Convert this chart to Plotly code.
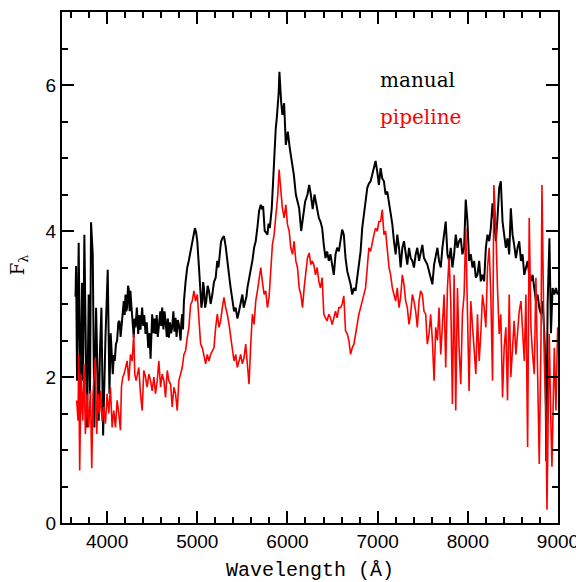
import plotly.graph_objects as go

# ---- data ----
wave_manual = [
    3650, 3656, 3667, 3685, 3704, 3722, 3733, 3748, 3765, 3778, 3796, 3811, 3822, 3841, 3859, 3878,
    3893, 3907, 3922, 3937, 3956, 3970, 3982, 4007, 4026, 4040, 4048, 4063, 4075, 4085, 4098,
    4111, 4125, 4137, 4150, 4167, 4185, 4195, 4204, 4213, 4222, 4232, 4241, 4250, 4259, 4268,
    4278, 4287, 4296, 4305, 4315, 4330, 4345, 4358, 4370, 4380, 4389, 4400, 4412, 4426, 4440,
    4456, 4470, 4482, 4491, 4500, 4515, 4526, 4537, 4550, 4562, 4574, 4590, 4600, 4611, 4625,
    4637, 4648, 4662, 4674, 4685, 4697, 4710, 4722, 4735, 4747, 4759, 4770, 4784, 4796, 4805,
    4815, 4824, 4833, 4842, 4852, 4870, 4889, 4907, 4926, 4944, 4960, 4974, 4987, 5000, 5019,
    5037, 5046, 5056, 5065, 5074, 5087, 5100, 5115, 5130, 5148, 5167, 5185, 5204, 5222, 5235,
    5248, 5263, 5278, 5296, 5315, 5333, 5352, 5370, 5389, 5408, 5426, 5445, 5463, 5482, 5500,
    5515, 5530, 5545, 5556, 5575, 5593, 5612, 5630, 5648, 5667, 5685, 5704, 5718, 5730, 5748,
    5762, 5778, 5790, 5804, 5826, 5845, 5858, 5870, 5882, 5893, 5903, 5911, 5920, 5930, 5944,
    5963, 5982, 6004, 6026, 6048, 6071, 6093, 6111, 6130, 6152, 6174, 6196, 6222, 6241, 6259,
    6280, 6300, 6322, 6348, 6366, 6385, 6403, 6422, 6440, 6459, 6477, 6496, 6514, 6533, 6551,
    6570, 6588, 6607, 6625, 6644, 6663, 6681, 6700, 6718, 6737, 6755, 6774, 6792, 6811, 6829,
    6848, 6866, 6885, 6903, 6922, 6940, 6959, 6977, 6996, 7014, 7033, 7051, 7070, 7088, 7107,
    7126, 7144, 7163, 7181, 7200, 7218, 7237, 7255, 7274, 7292, 7311, 7329, 7348, 7366, 7385,
    7403, 7422, 7440, 7459, 7477, 7496, 7514, 7533, 7551, 7570, 7588, 7607, 7626, 7644, 7663,
    7681, 7700, 7718, 7737, 7755, 7774, 7792, 7811, 7829, 7848, 7866, 7885, 7903, 7922, 7940,
    7959, 7977, 7996, 8014, 8033, 8052, 8070, 8089, 8107, 8126, 8144, 8163, 8181, 8200, 8218,
    8237, 8255, 8274, 8292, 8311, 8329, 8348, 8366, 8385, 8403, 8422, 8440, 8459, 8477, 8496,
    8514, 8533, 8552, 8570, 8589, 8607, 8626, 8644, 8663, 8681, 8700, 8718, 8737, 8755, 8774,
    8792, 8811, 8829, 8848, 8860, 8870, 8885, 8905, 8922, 8940, 8959, 8977, 8996,
]
flux_manual = [
    3.10, 3.52, 1.95, 3.84, 1.50, 3.29, 1.95, 3.95, 2.30, 1.31, 3.13, 1.77, 4.12, 3.68, 1.31, 2.95,
    2.10, 1.40, 2.40, 2.95, 1.20, 2.20, 2.54, 3.47, 1.77, 2.60, 2.36, 2.04, 2.30, 2.22, 2.45,
    2.50, 2.75, 2.77, 2.55, 2.81, 3.04, 2.85, 3.13, 2.90, 2.95, 3.25, 3.20, 2.90, 3.18, 3.00,
    2.86, 2.70, 2.54, 2.80, 2.68, 2.95, 2.59, 2.85, 2.65, 2.80, 2.95, 2.70, 2.85, 2.59, 2.75,
    2.40, 2.60, 2.25, 2.55, 2.86, 2.60, 2.80, 2.59, 2.85, 2.55, 2.68, 2.90, 2.70, 2.95, 2.65,
    2.90, 2.77, 2.55, 2.80, 2.54, 2.75, 2.60, 2.68, 2.90, 2.62, 2.81, 2.55, 2.78, 2.72, 2.60,
    2.50, 2.75, 2.86, 2.65, 3.04, 3.30, 3.50, 3.60, 3.72, 3.88, 3.95, 4.04, 3.98, 3.86, 3.50,
    3.18, 2.95, 3.04, 3.30, 3.22, 2.95, 3.04, 3.25, 3.18, 3.00, 3.13, 3.30, 3.36, 3.59, 3.50,
    3.68, 3.85, 3.90, 3.93, 3.79, 3.63, 3.40, 3.22, 3.04, 2.90, 2.95, 2.80, 2.90, 3.05, 3.13,
    2.95, 3.04, 3.10, 3.22, 3.35, 3.45, 3.60, 3.77, 3.86, 4.05, 4.27, 4.36, 4.30, 4.34, 4.00,
    3.98, 3.95, 4.10, 4.04, 4.31, 4.81, 5.10, 5.40, 5.55, 5.72, 5.90, 6.18, 5.85, 5.77, 5.59,
    5.75, 5.18, 5.36, 5.13, 4.95, 4.77, 4.50, 4.40, 4.31, 4.00, 4.18, 4.40, 4.50, 4.63, 4.50,
    4.30, 4.50, 4.36, 4.18, 4.13, 4.04, 3.81, 3.63, 3.72, 3.59, 3.68, 3.50, 3.40, 3.68, 3.77,
    3.72, 3.86, 4.02, 3.95, 3.63, 3.45, 3.36, 3.27, 3.13, 3.22, 3.18, 3.36, 3.59, 3.72, 4.04,
    4.22, 4.40, 4.59, 4.65, 4.68, 4.77, 4.86, 4.96, 4.81, 4.63, 4.86, 4.72, 4.68, 4.50, 4.54,
    4.40, 4.27, 4.09, 3.86, 3.68, 3.95, 3.77, 3.50, 3.77, 3.86, 3.68, 3.54, 3.77, 3.63, 3.59,
    3.50, 3.68, 3.77, 3.59, 3.68, 3.81, 3.63, 3.59, 3.54, 3.45, 3.36, 3.27, 3.54, 3.68, 3.77,
    3.59, 3.50, 3.77, 4.00, 4.13, 3.68, 3.59, 3.77, 3.50, 3.68, 3.95, 3.77, 3.86, 3.90, 3.68,
    3.77, 4.43, 4.13, 3.59, 3.68, 3.50, 3.59, 3.36, 3.40, 3.59, 3.31, 3.40, 3.31, 3.77, 3.95,
    3.86, 4.04, 4.38, 4.13, 3.86, 4.18, 4.59, 4.68, 4.13, 3.95, 3.77, 3.90, 3.68, 4.31, 3.95,
    3.81, 3.63, 3.77, 3.86, 3.59, 3.68, 3.40, 3.50, 3.59, 3.40, 3.31, 3.40, 3.22, 3.04, 3.13,
    2.95, 2.86, 3.04, 2.60, 2.20, 0.85, 3.00, 3.90, 2.60, 3.22, 3.13, 3.22, 3.13,
]

wave_pipeline = [
    3663, 3678, 3685, 3696, 3711, 3730, 3744, 3759, 3778, 3796, 3815, 3830, 3844, 3859, 3870,
    3885, 3900, 3915, 3930, 3944, 3963, 3982, 4000, 4019, 4037, 4056, 4074, 4093, 4111, 4130,
    4148, 4159, 4174, 4189, 4204, 4222, 4241, 4259, 4278, 4296, 4307, 4322, 4337, 4352, 4370,
    4389, 4407, 4426, 4444, 4463, 4482, 4500, 4519, 4537, 4556, 4574, 4593, 4611, 4630, 4648,
    4667, 4685, 4704, 4722, 4741, 4759, 4778, 4796, 4815, 4833, 4852, 4870, 4889, 4907, 4926,
    4944, 4963, 4981, 5000, 5019, 5037, 5056, 5074, 5093, 5111, 5130, 5148, 5167, 5185, 5204,
    5222, 5241, 5259, 5278, 5296, 5315, 5333, 5352, 5370, 5389, 5407, 5426, 5444, 5463, 5481,
    5500, 5519, 5537, 5556, 5574, 5593, 5611, 5630, 5648, 5667, 5685, 5704, 5722, 5741, 5759,
    5778, 5796, 5815, 5833, 5852, 5870, 5893, 5907, 5926, 5944, 5963, 5982, 6000, 6019, 6037,
    6056, 6074, 6093, 6111, 6130, 6148, 6167, 6185, 6204, 6222, 6241, 6259, 6274, 6292, 6311,
    6329, 6348, 6366, 6385, 6403, 6422, 6440, 6459, 6477, 6496, 6514, 6533, 6551, 6570, 6588,
    6607, 6625, 6644, 6663, 6681, 6700, 6718, 6737, 6755, 6774, 6792, 6811, 6829, 6848, 6866,
    6885, 6903, 6922, 6940, 6959, 6977, 6996, 7014, 7033, 7051, 7070, 7088, 7107, 7126, 7144,
    7163, 7181, 7200, 7218, 7237, 7255, 7274, 7292, 7311, 7329, 7348, 7366, 7385, 7403, 7422,
    7440, 7459, 7477, 7496, 7514, 7533, 7551, 7570, 7588, 7607, 7626, 7644, 7663, 7681, 7700,
    7718, 7737, 7755, 7774, 7792, 7811, 7829, 7848, 7866, 7885, 7903, 7922, 7940, 7959, 7977,
    7996, 8014, 8033, 8052, 8070, 8089, 8107, 8126, 8144, 8163, 8181, 8200, 8218, 8237, 8255,
    8274, 8289, 8311, 8329, 8348, 8366, 8385, 8403, 8422, 8440, 8459, 8477, 8496, 8514, 8533,
    8552, 8570, 8589, 8607, 8626, 8644, 8663, 8681, 8700, 8718, 8737, 8755, 8774, 8792, 8811,
    8822, 8848, 8866, 8878, 8903, 8922, 8933, 8959, 8977, 8996,
]
flux_pipeline = [
    1.68, 1.40, 2.31, 0.72, 2.04, 1.40, 2.18, 1.22, 1.77, 1.31, 1.81, 0.75, 1.77, 2.18, 2.27,
    1.22, 1.77, 1.50, 1.81, 1.40, 1.59, 1.36, 1.77, 1.50, 1.86, 1.31, 1.54, 1.31, 1.68, 1.50,
    1.27, 1.86, 2.00, 2.04, 2.13, 2.22, 1.95, 2.31, 2.22, 2.59, 2.04, 1.95, 2.04, 2.13, 1.77,
    1.54, 2.09, 2.00, 1.86, 2.04, 1.95, 1.81, 2.00, 1.77, 1.95, 2.22, 1.86, 2.04, 1.95, 1.72,
    2.09, 1.95, 1.90, 1.59, 1.86, 1.77, 1.54, 1.95, 2.04, 2.13, 2.31, 2.36, 2.54, 2.68, 2.99,
    3.04, 3.18, 3.04, 3.13, 2.81, 2.45, 2.40, 2.27, 2.18, 2.31, 2.22, 2.31, 2.36, 2.40, 2.68,
    2.86, 2.68, 2.77, 2.95, 3.09, 2.95, 2.86, 2.72, 2.54, 2.36, 2.22, 2.31, 2.13, 2.22, 2.31,
    2.18, 2.27, 2.45, 2.22, 1.90, 2.45, 2.86, 2.72, 3.04, 3.18, 3.36, 3.50, 3.31, 3.13, 3.18,
    2.95, 3.09, 3.45, 3.81, 3.95, 4.22, 4.50, 4.84, 4.59, 4.31, 4.18, 4.36, 4.09, 4.00, 3.77,
    3.68, 3.86, 3.59, 3.50, 3.22, 3.13, 2.95, 3.22, 3.40, 3.63, 3.70, 3.54, 3.59, 3.54, 3.40,
    3.50, 3.31, 3.22, 3.36, 2.86, 2.81, 2.77, 2.86, 2.81, 2.72, 2.81, 2.90, 2.81, 2.95, 2.95,
    3.00, 3.11, 2.63, 2.59, 2.50, 2.31, 2.40, 2.45, 2.59, 2.72, 2.86, 2.95, 3.04, 3.13, 3.22,
    3.50, 3.77, 3.72, 3.86, 3.95, 4.04, 4.00, 4.13, 4.13, 4.29, 3.95, 4.00, 3.77, 3.50, 3.40,
    3.22, 3.13, 3.04, 3.22, 2.95, 3.09, 3.40, 3.27, 3.04, 2.95, 2.72, 2.86, 3.13, 3.04, 2.90,
    2.68, 3.04, 3.18, 3.13, 2.90, 2.86, 2.45, 2.59, 2.86, 2.50, 1.95, 2.68, 2.50, 2.95, 2.31,
    2.68, 3.13, 2.13, 3.22, 3.63, 3.04, 1.63, 3.40, 1.54, 3.22, 2.40, 1.90, 2.86, 3.13, 4.04,
    2.59, 1.81, 3.04, 2.68, 2.40, 2.04, 2.86, 2.22, 2.59, 3.13, 2.95, 2.68, 3.50, 3.77, 3.13,
    1.95, 4.63, 4.04, 3.22, 2.59, 2.86, 1.72, 2.40, 2.68, 1.68, 3.13, 2.00, 2.50, 2.77, 2.31,
    2.59, 2.90, 3.04, 2.68, 2.22, 3.13, 1.04, 4.18, 2.68, 2.31, 2.04, 3.36, 1.77, 0.81, 2.45,
    4.63, 2.22, 1.54, 0.18, 2.59, 1.31, 0.77, 2.40, 1.54, 2.68,
]

labels = ["manual", "pipeline"]
colors = ["black", "red"]

fig = go.Figure()
fig.add_trace(go.Scatter(x=wave_manual, y=flux_manual, mode="lines",
                         line=dict(color=colors[0], width=2), showlegend=False))
fig.add_trace(go.Scatter(x=wave_pipeline, y=flux_pipeline, mode="lines",
                         line=dict(color=colors[1], width=1.6), showlegend=False))

axis_common = dict(
    showgrid=False, zeroline=False, showline=True, linecolor="black", linewidth=2,
    mirror="allticks", ticks="inside", ticklen=12, tickwidth=1.5, tickcolor="black",
    ticklabeloverflow="allow",
    tickfont=dict(family="Liberation Sans, Arial, sans-serif", size=19, color="black"),
)
fig.update_xaxes(range=[3500, 9000], tick0=4000, dtick=1000,
                 minor=dict(ticks="inside", ticklen=6, dtick=200, tick0=3600,
                            tickcolor="black", tickwidth=1.5),
                 **axis_common)
fig.update_yaxes(range=[0, 7], tick0=0, dtick=2,
                 minor=dict(ticks="inside", ticklen=6, dtick=0.5,
                            tickcolor="black", tickwidth=1.5),
                 **axis_common)

ann_font = "DejaVu Serif, serif"
fig.add_annotation(xref="paper", yref="paper", x=0.637, y=0.867, xanchor="left", yanchor="middle",
                   text=labels[0], showarrow=False, font=dict(family=ann_font, size=20, color=colors[0]))
fig.add_annotation(xref="paper", yref="paper", x=0.637, y=0.795, xanchor="left", yanchor="middle",
                   text=labels[1], showarrow=False, font=dict(family=ann_font, size=20, color=colors[1]))
fig.add_annotation(xref="paper", yref="paper", x=0.5, y=-0.066, xanchor="center", yanchor="top",
                   text="Wavelength (Å)", showarrow=False,
                   font=dict(family="Liberation Mono, Courier New, monospace", size=20, color="black"))
fig.add_annotation(xref="paper", yref="paper", x=-0.086, y=0.505, xanchor="center", yanchor="middle",
                   text="F<sub>λ</sub>", showarrow=False, textangle=-90,
                   font=dict(family="DejaVu Serif, serif", size=18, color="black"))

# the page body adds an 8 px offset, so the figure is 8 px smaller and margins shifted
fig.update_layout(width=576, height=574, margin=dict(l=54, r=26, t=2, b=59),
                  plot_bgcolor="white", paper_bgcolor="white")
fig.write_html("out.html")
